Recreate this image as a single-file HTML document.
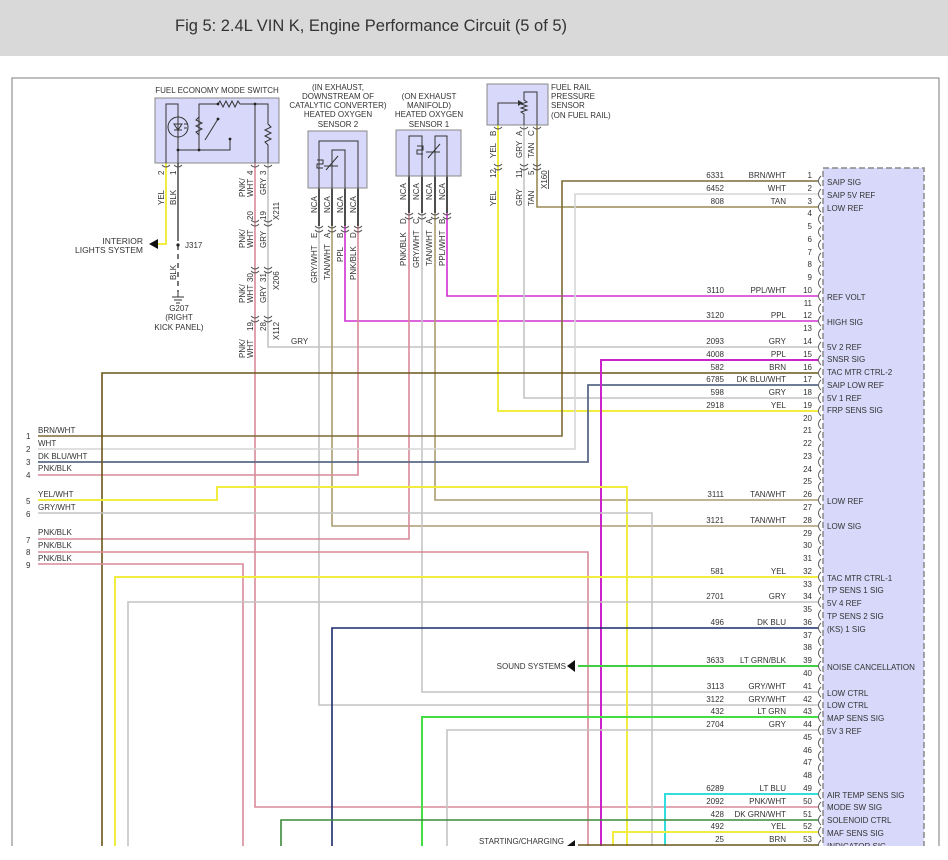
<!DOCTYPE html>
<html><head><meta charset="utf-8"><style>
html,body{margin:0;padding:0;background:#fff;width:948px;height:860px;overflow:hidden}
svg{display:block}
text{font-family:"Liberation Sans",sans-serif;fill:#333}
.s{font-size:8px}
.f{font-size:8.5px}
</style></head><body>
<svg width="948" height="860" viewBox="0 0 948 860" xmlns="http://www.w3.org/2000/svg">
<defs><clipPath id="c"><rect x="0" y="0" width="948" height="846"/></clipPath></defs>
<rect x="0" y="0" width="948" height="56" fill="#d9d9d9"/>
<text x="175" y="31" style="font-size:16.5px" textLength="392" fill="#333">Fig 5: 2.4L VIN K, Engine Performance Circuit (5 of 5)</text>
<g clip-path="url(#c)">
<path d="M12 860 V78 H939 V860" fill="none" stroke="#999" stroke-width="1.3"/>

<!-- PCM box -->
<rect x="823" y="168" width="101" height="700" fill="#d8d8fa" stroke="#888" stroke-width="1.5" stroke-dasharray="6,3"/>

<g fill="none" stroke-width="1.6">
<!-- FES wires -->
<path d="M166 163 V244 H152" stroke="#f0ec40" stroke-width="2"/>
<path d="M178 163 V236" stroke="#555"/>
<path d="M178 236 V292" stroke="#555" stroke-dasharray="5,4"/>
<path d="M255 163 V807 H818" stroke="#d88a9a"/>
<path d="M268 163 V347 H818" stroke="#c4c4c4"/>
<!-- HO2S2 -->
<path d="M319 140 V226" stroke="#222"/><path d="M332 140 V226" stroke="#222"/><path d="M345 140 V226" stroke="#222"/><path d="M358 140 V226" stroke="#222"/>
<path d="M319 226 V705 H818" stroke="#c4c4c4"/>
<path d="M332 226 V526 H818" stroke="#ab9c70"/>
<path d="M345 226 V321 H818" stroke="#d030d0"/>
<path d="M358 226 V475 H38" stroke="#d88a9a"/>
<!-- HO2S1 -->
<path d="M409 140 V213" stroke="#222"/><path d="M422 140 V213" stroke="#222"/><path d="M435 140 V213" stroke="#222"/><path d="M447 140 V213" stroke="#222"/>
<path d="M409 213 V539 H38" stroke="#d88a9a"/>
<path d="M422 213 V692 H818" stroke="#c4c4c4"/>
<path d="M435 213 V500 H818" stroke="#ab9c70"/>
<path d="M447 213 V296 H818" stroke="#d030d0"/>
<!-- FRP -->
<path d="M498 125 V411 H818" stroke="#f0ec40" stroke-width="2"/>
<path d="M524 125 V398 H818" stroke="#c4c4c4"/>
<path d="M537 125 V207 H818" stroke="#9a8a55"/>
<!-- PCM top routes -->
<path d="M818 181 H562 V436 H38" stroke="#7d6a35"/>
<path d="M818 194 H575 V449 H38" stroke="#d6d6d6"/>
<path d="M818 385 H588 V462 H38" stroke="#5a6a88" stroke-width="1.8"/>
<path d="M818 373 H102 V860" stroke="#6b5518"/>
<path d="M818 360 H601 V860" stroke="#cc22cc" stroke-width="2"/>
<path d="M38 500 H217 V487 H627 V860" stroke="#f0ec40" stroke-width="2"/>
<path d="M38 513 H652 V860" stroke="#c4c4c4"/>
<path d="M38 552 H588 V860" stroke="#d88a9a"/>
<path d="M38 564 H243 V860" stroke="#d88a9a"/>
<path d="M818 577 H115 V860" stroke="#f0ec40" stroke-width="2"/>
<path d="M818 602 H128 V860" stroke="#c4c4c4"/>
<path d="M818 628 H332 V860" stroke="#1a2a6a"/>
<path d="M818 666 H578" stroke="#44cc44" stroke-width="2"/>
<path d="M818 717 H422 V860" stroke="#44dd44" stroke-width="2"/>
<path d="M818 730 H447 V860" stroke="#c4c4c4"/>
<path d="M818 794 H665 V860" stroke="#33dddd" stroke-width="2"/>
<path d="M818 820 H281 V860" stroke="#3a8a3a"/>
<path d="M818 832 H613 V860" stroke="#f0ec40" stroke-width="2"/>
<path d="M818 845 H578" stroke="#6b5518"/>
</g>
<path d="M575 660 L567 666 L575 672Z" fill="#111"/>
<path d="M575 840 L567 846 L575 852Z" fill="#111"/>
<path d="M158 239 L149 244 L158 249Z" fill="#111"/>

<!-- FES box -->
<rect x="155" y="98" width="124" height="65" fill="#d8d8fa" stroke="#888"/>
<g fill="none" stroke="#333" stroke-width="1">
<path d="M166 163 V104 H178 V163"/>
<circle cx="178" cy="127" r="10"/>
<path d="M174 124 L182 124 L178 130Z M174 130 H182 M184 124 h3 M184 128 h3"/>
<path d="M178 164 V150 H199 V104 H218 l2-3 3 6 3-6 3 6 3-6 3 6 3-6 2 3 H255 V163"/>
<path d="M199 117 l-3 3 6 3 -6 3 6 3 -6 3 3 3"/>
<path d="M199 150 H230 V139 M205 140 L218 119"/>
<path d="M268 163 V145 l-3-3 6-3 -6-3 6-3 -6-3 6-3 -3-3 V104 H255"/>
</g>
<g fill="#222"><circle cx="178" cy="150" r="1.4"/><circle cx="199" cy="150" r="1.4"/><circle cx="218" cy="104" r="1.4"/><circle cx="255" cy="104" r="1.4"/><circle cx="218" cy="119" r="1.4"/><circle cx="230" cy="139" r="1.4"/><circle cx="178" cy="245" r="1.6"/></g>
<text class="s" x="217" y="93" text-anchor="middle">FUEL ECONOMY MODE SWITCH</text>
<text class="f" x="143" y="244" text-anchor="end">INTERIOR</text>
<text class="f" x="143" y="253" text-anchor="end">LIGHTS SYSTEM</text>
<text class="s" x="185" y="248">J317</text>
<path d="M178 292 V297 M172 297 H184 M174 300 H182 M176 303 H180" stroke="#333" fill="none"/>
<text class="s" x="179" y="311" text-anchor="middle">G207</text>
<text class="s" x="179" y="320" text-anchor="middle">(RIGHT</text>
<text class="s" x="179" y="330" text-anchor="middle">KICK PANEL)</text>

<!-- rotated labels -->
<g class="s">
<text transform="translate(164,175) rotate(-90)">2</text>
<text transform="translate(176,175) rotate(-90)">1</text>
<text transform="translate(164,205) rotate(-90)">YEL</text>
<text transform="translate(176,205) rotate(-90)">BLK</text>
<text transform="translate(176,280) rotate(-90)">BLK</text>
<text transform="translate(245,197) rotate(-90)">PNK/</text><text transform="translate(253,197) rotate(-90)">WHT</text>
<text transform="translate(253,175) rotate(-90)">4</text><text transform="translate(266,175) rotate(-90)">3</text>
<text transform="translate(266,195) rotate(-90)">GRY</text>
<text transform="translate(253,220) rotate(-90)">20</text><text transform="translate(266,220) rotate(-90)">19</text>
<text transform="translate(279,220) rotate(-90)">X211</text>
<text transform="translate(245,248) rotate(-90)">PNK/</text><text transform="translate(253,248) rotate(-90)">WHT</text>
<text transform="translate(266,248) rotate(-90)">GRY</text>
<text transform="translate(253,282) rotate(-90)">30</text><text transform="translate(266,282) rotate(-90)">31</text>
<text transform="translate(279,290) rotate(-90)">X206</text>
<text transform="translate(245,303) rotate(-90)">PNK/</text><text transform="translate(253,303) rotate(-90)">WHT</text>
<text transform="translate(266,303) rotate(-90)">GRY</text>
<text transform="translate(253,331) rotate(-90)">19</text><text transform="translate(266,331) rotate(-90)">28</text>
<text transform="translate(279,340) rotate(-90)">X112</text>
<text transform="translate(245,358) rotate(-90)">PNK/</text><text transform="translate(253,358) rotate(-90)">WHT</text>
<text x="291" y="344">GRY</text>
<!-- HO2S2 -->
<text transform="translate(317,213) rotate(-90)">NCA</text><text transform="translate(330,213) rotate(-90)">NCA</text><text transform="translate(343,213) rotate(-90)">NCA</text><text transform="translate(356,213) rotate(-90)">NCA</text>
<text transform="translate(317,238) rotate(-90)">E</text><text transform="translate(330,238) rotate(-90)">A</text><text transform="translate(343,238) rotate(-90)">B</text><text transform="translate(356,238) rotate(-90)">D</text>
<text transform="translate(317,283) rotate(-90)">GRY/WHT</text><text transform="translate(330,280) rotate(-90)">TAN/WHT</text><text transform="translate(343,262) rotate(-90)">PPL</text><text transform="translate(356,280) rotate(-90)">PNK/BLK</text>
<!-- HO2S1 -->
<text transform="translate(406,200) rotate(-90)">NCA</text><text transform="translate(419,200) rotate(-90)">NCA</text><text transform="translate(432,200) rotate(-90)">NCA</text><text transform="translate(445,200) rotate(-90)">NCA</text>
<text transform="translate(406,224) rotate(-90)">D</text><text transform="translate(419,224) rotate(-90)">C</text><text transform="translate(432,224) rotate(-90)">A</text><text transform="translate(445,224) rotate(-90)">B</text>
<text transform="translate(406,266) rotate(-90)">PNK/BLK</text><text transform="translate(419,268) rotate(-90)">GRY/WHT</text><text transform="translate(432,266) rotate(-90)">TAN/WHT</text><text transform="translate(445,266) rotate(-90)">PPL/WHT</text>
<!-- FRP -->
<text transform="translate(496,136) rotate(-90)">B</text><text transform="translate(522,136) rotate(-90)">A</text><text transform="translate(534,136) rotate(-90)">C</text>
<text transform="translate(496,158) rotate(-90)">YEL</text><text transform="translate(522,158) rotate(-90)">GRY</text><text transform="translate(534,158) rotate(-90)">TAN</text>
<text transform="translate(496,178) rotate(-90)">12</text><text transform="translate(522,178) rotate(-90)">11</text><text transform="translate(534,175) rotate(-90)">5</text>
<text transform="translate(547,189) rotate(-90)" text-decoration="underline">X160</text>
<text transform="translate(496,206) rotate(-90)">YEL</text><text transform="translate(522,206) rotate(-90)">GRY</text><text transform="translate(534,206) rotate(-90)">TAN</text>
</g>
<!-- connector chevrons -->
<g fill="none" stroke="#555" stroke-width="0.9">
<path d="M162 165 q4 4 8 0 M174 165 q4 4 8 0 M251 165 q4 4 8 0 M264 165 q4 4 8 0"/>
<path d="M251 220 q4 4 8 0 M264 220 q4 4 8 0 M251 224 q4 4 8 0 M264 224 q4 4 8 0"/>
<path d="M251 267 q4 4 8 0 M264 267 q4 4 8 0 M251 271 q4 4 8 0 M264 271 q4 4 8 0"/>
<path d="M251 316 q4 4 8 0 M264 316 q4 4 8 0 M251 320 q4 4 8 0 M264 320 q4 4 8 0"/>
<path d="M315 226 q4 4 8 0 M328 226 q4 4 8 0 M341 226 q4 4 8 0 M354 226 q4 4 8 0 M315 230 q4 4 8 0 M328 230 q4 4 8 0 M341 230 q4 4 8 0 M354 230 q4 4 8 0"/>
<path d="M405 213 q4 4 8 0 M418 213 q4 4 8 0 M431 213 q4 4 8 0 M443 213 q4 4 8 0 M405 217 q4 4 8 0 M418 217 q4 4 8 0 M431 217 q4 4 8 0 M443 217 q4 4 8 0"/>
<path d="M494 127 q4 4 8 0 M520 127 q4 4 8 0 M533 127 q4 4 8 0 M494 164 q4 4 8 0 M520 164 q4 4 8 0 M533 164 q4 4 8 0 M494 168 q4 4 8 0 M520 168 q4 4 8 0 M533 168 q4 4 8 0"/>
</g>

<!-- HO2S2 box -->
<rect x="308" y="131" width="59" height="57" fill="#d8d8fa" stroke="#888"/>
<g fill="none" stroke="#333" stroke-width="1"><path d="M319 188 V141 H358 V188 M332 188 V150 H345 V188 M317 160 h6 v4 h-6 v4 h6 M326 170 L338 156 M324 166 h14"/></g>
<g class="s" text-anchor="middle"><text x="338" y="90">(IN EXHAUST,</text><text x="338" y="99">DOWNSTREAM OF</text><text x="338" y="108">CATALYTIC CONVERTER)</text><text x="338" y="117">HEATED OXYGEN</text><text x="338" y="127">SENSOR 2</text></g>
<!-- HO2S1 box -->
<rect x="396" y="130" width="65" height="46" fill="#d8d8fa" stroke="#888"/>
<g fill="none" stroke="#333" stroke-width="1"><path d="M409 176 V136 H422 V176 M435 176 V136 H447 V176 M417 146 h6 v4 h-6 v4 h6 M428 158 L440 144 M426 152 h14"/></g>
<g class="s" text-anchor="middle"><text x="429" y="99">(ON EXHAUST</text><text x="429" y="108">MANIFOLD)</text><text x="429" y="117">HEATED OXYGEN</text><text x="429" y="127">SENSOR 1</text></g>
<!-- FRP box -->
<rect x="487" y="84" width="61" height="41" fill="#d8d8fa" stroke="#888"/>
<g fill="none" stroke="#333" stroke-width="1"><path d="M498 125 V103 H520 M524 125 V114 l-3-2 6-2 -6-2 6-2 -6-2 6-2 -3-2 V92 H537 V125"/></g>
<path d="M518 100 L523 103 L518 106Z" fill="#333"/>
<g class="s"><text x="551" y="90">FUEL RAIL</text><text x="551" y="99">PRESSURE</text><text x="551" y="108">SENSOR</text><text x="551" y="118">(ON FUEL RAIL)</text></g>

<!-- left connector -->
<g class="s">
<text x="26" y="439">1</text><text x="38" y="433">BRN/WHT</text>
<text x="26" y="452">2</text><text x="38" y="446">WHT</text>
<text x="26" y="465">3</text><text x="38" y="459">DK BLU/WHT</text>
<text x="26" y="478">4</text><text x="38" y="471">PNK/BLK</text>
<text x="26" y="504">5</text><text x="38" y="497">YEL/WHT</text>
<text x="26" y="517">6</text><text x="38" y="510">GRY/WHT</text>
<text x="26" y="543">7</text><text x="38" y="535">PNK/BLK</text>
<text x="26" y="555">8</text><text x="38" y="548">PNK/BLK</text>
<text x="26" y="568">9</text><text x="38" y="561">PNK/BLK</text>
<text x="566" y="669" text-anchor="end">SOUND SYSTEMS</text>
<text x="564" y="844" text-anchor="end">STARTING/CHARGING</text>
</g>

<!-- PCM pins -->
<g fill="none" stroke="#555" stroke-width="0.9">
<path d="M821 176 q-5 5 0 10 M821 189 q-5 5 0 10 M821 202 q-5 5 0 10 M821 214 q-5 5 0 10 M821 227 q-5 5 0 10 M821 240 q-5 5 0 10 M821 253 q-5 5 0 10 M821 265 q-5 5 0 10 M821 278 q-5 5 0 10 M821 291 q-5 5 0 10 M821 304 q-5 5 0 10 M821 316 q-5 5 0 10 M821 329 q-5 5 0 10 M821 342 q-5 5 0 10 M821 355 q-5 5 0 10 M821 368 q-5 5 0 10 M821 380 q-5 5 0 10 M821 393 q-5 5 0 10 M821 406 q-5 5 0 10 M821 419 q-5 5 0 10 M821 431 q-5 5 0 10 M821 444 q-5 5 0 10 M821 457 q-5 5 0 10 M821 470 q-5 5 0 10 M821 482 q-5 5 0 10 M821 495 q-5 5 0 10 M821 508 q-5 5 0 10 M821 521 q-5 5 0 10 M821 534 q-5 5 0 10 M821 546 q-5 5 0 10 M821 559 q-5 5 0 10 M821 572 q-5 5 0 10 M821 585 q-5 5 0 10 M821 597 q-5 5 0 10 M821 610 q-5 5 0 10 M821 623 q-5 5 0 10 M821 636 q-5 5 0 10 M821 648 q-5 5 0 10 M821 661 q-5 5 0 10 M821 674 q-5 5 0 10 M821 687 q-5 5 0 10 M821 700 q-5 5 0 10 M821 712 q-5 5 0 10 M821 725 q-5 5 0 10 M821 738 q-5 5 0 10 M821 751 q-5 5 0 10 M821 763 q-5 5 0 10 M821 776 q-5 5 0 10 M821 789 q-5 5 0 10 M821 802 q-5 5 0 10 M821 815 q-5 5 0 10 M821 827 q-5 5 0 10 M821 840 q-5 5 0 10"/>
</g>
<g class="s" text-anchor="end">
<text x="812" y="178">1</text><text x="812" y="191">2</text><text x="812" y="204">3</text><text x="812" y="216">4</text><text x="812" y="229">5</text><text x="812" y="242">6</text><text x="812" y="255">7</text><text x="812" y="267">8</text><text x="812" y="280">9</text><text x="812" y="293">10</text><text x="812" y="306">11</text><text x="812" y="318">12</text><text x="812" y="331">13</text><text x="812" y="344">14</text><text x="812" y="357">15</text><text x="812" y="370">16</text><text x="812" y="382">17</text><text x="812" y="395">18</text><text x="812" y="408">19</text><text x="812" y="421">20</text><text x="812" y="433">21</text><text x="812" y="446">22</text><text x="812" y="459">23</text><text x="812" y="472">24</text><text x="812" y="484">25</text><text x="812" y="497">26</text><text x="812" y="510">27</text><text x="812" y="523">28</text><text x="812" y="536">29</text><text x="812" y="548">30</text><text x="812" y="561">31</text><text x="812" y="574">32</text><text x="812" y="587">33</text><text x="812" y="599">34</text><text x="812" y="612">35</text><text x="812" y="625">36</text><text x="812" y="638">37</text><text x="812" y="650">38</text><text x="812" y="663">39</text><text x="812" y="676">40</text><text x="812" y="689">41</text><text x="812" y="702">42</text><text x="812" y="714">43</text><text x="812" y="727">44</text><text x="812" y="740">45</text><text x="812" y="753">46</text><text x="812" y="765">47</text><text x="812" y="778">48</text><text x="812" y="791">49</text><text x="812" y="804">50</text><text x="812" y="817">51</text><text x="812" y="829">52</text><text x="812" y="842">53</text>
<!-- wire numbers & colors -->
<text x="724" y="178">6331</text><text x="786" y="178">BRN/WHT</text>
<text x="724" y="191">6452</text><text x="786" y="191">WHT</text>
<text x="724" y="204">808</text><text x="786" y="204">TAN</text>
<text x="724" y="293">3110</text><text x="786" y="293">PPL/WHT</text>
<text x="724" y="318">3120</text><text x="786" y="318">PPL</text>
<text x="724" y="344">2093</text><text x="786" y="344">GRY</text>
<text x="724" y="357">4008</text><text x="786" y="357">PPL</text>
<text x="724" y="370">582</text><text x="786" y="370">BRN</text>
<text x="724" y="382">6785</text><text x="786" y="382">DK BLU/WHT</text>
<text x="724" y="395">598</text><text x="786" y="395">GRY</text>
<text x="724" y="408">2918</text><text x="786" y="408">YEL</text>
<text x="724" y="497">3111</text><text x="786" y="497">TAN/WHT</text>
<text x="724" y="523">3121</text><text x="786" y="523">TAN/WHT</text>
<text x="724" y="574">581</text><text x="786" y="574">YEL</text>
<text x="724" y="599">2701</text><text x="786" y="599">GRY</text>
<text x="724" y="625">496</text><text x="786" y="625">DK BLU</text>
<text x="724" y="663">3633</text><text x="786" y="663">LT GRN/BLK</text>
<text x="724" y="689">3113</text><text x="786" y="689">GRY/WHT</text>
<text x="724" y="702">3122</text><text x="786" y="702">GRY/WHT</text>
<text x="724" y="714">432</text><text x="786" y="714">LT GRN</text>
<text x="724" y="727">2704</text><text x="786" y="727">GRY</text>
<text x="724" y="791">6289</text><text x="786" y="791">LT BLU</text>
<text x="724" y="804">2092</text><text x="786" y="804">PNK/WHT</text>
<text x="724" y="817">428</text><text x="786" y="817">DK GRN/WHT</text>
<text x="724" y="829">492</text><text x="786" y="829">YEL</text>
<text x="724" y="842">25</text><text x="786" y="842">BRN</text>
</g>
<g class="s">
<text x="827" y="185">SAIP SIG</text><text x="827" y="198">SAIP 5V REF</text><text x="827" y="211">LOW REF</text>
<text x="827" y="300">REF VOLT</text><text x="827" y="325">HIGH SIG</text>
<text x="827" y="350">5V 2 REF</text><text x="827" y="362">SNSR SIG</text><text x="827" y="375">TAC MTR CTRL-2</text><text x="827" y="388">SAIP LOW REF</text><text x="827" y="401">5V 1 REF</text><text x="827" y="413">FRP SENS SIG</text>
<text x="827" y="504">LOW REF</text><text x="827" y="529">LOW SIG</text>
<text x="827" y="581">TAC MTR CTRL-1</text><text x="827" y="593">TP SENS 1 SIG</text><text x="827" y="606">5V 4 REF</text><text x="827" y="619">TP SENS 2 SIG</text><text x="827" y="632">(KS) 1 SIG</text>
<text x="827" y="670">NOISE CANCELLATION</text>
<text x="827" y="696">LOW CTRL</text><text x="827" y="708">LOW CTRL</text><text x="827" y="721">MAP SENS SIG</text><text x="827" y="734">5V 3 REF</text>
<text x="827" y="798">AIR TEMP SENS SIG</text><text x="827" y="810">MODE SW SIG</text><text x="827" y="823">SOLENOID CTRL</text><text x="827" y="836">MAF SENS SIG</text><text x="827" y="849">INDICATOR SIG</text>
</g>
</g>
</svg>
</body></html>
